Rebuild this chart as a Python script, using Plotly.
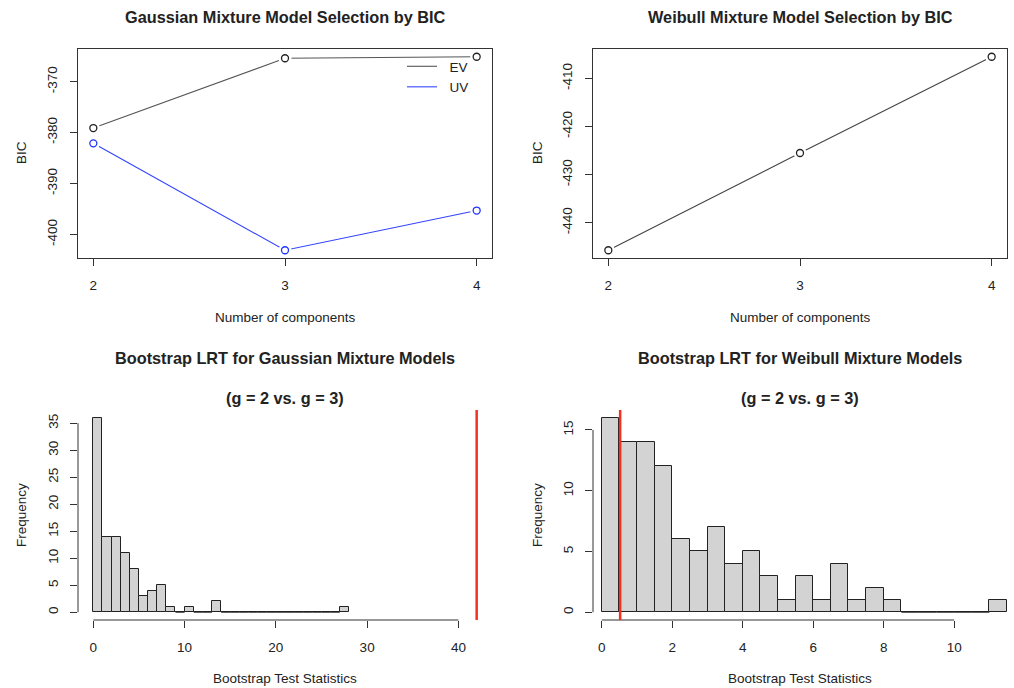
import plotly.graph_objects as go

# ---------------- data ----------------
components = [2, 3, 4]
gmm_bic_ev = [-379.1, -365.4, -365.1]
gmm_bic_uv = [-382.1, -403.1, -395.3]
wmm_bic = [-445.7, -425.5, -405.5]

gmm_bin_left = [0, 1, 2, 3, 4, 5, 6, 7, 8, 9, 10, 11, 12, 13, 14, 15, 16, 17, 18, 19,
                20, 21, 22, 23, 24, 25, 26, 27]
gmm_bin_width = 1.0
gmm_counts = [36, 14, 14, 11, 8, 3, 4, 5, 1, 0, 1, 0, 0, 2, 0, 0, 0, 0, 0, 0,
              0, 0, 0, 0, 0, 0, 0, 1]
gmm_observed_lrt = 42.0

wmm_bin_left = [0, 0.5, 1, 1.5, 2, 2.5, 3, 3.5, 4, 4.5, 5, 5.5, 6, 6.5, 7, 7.5, 8,
                8.5, 9, 9.5, 10, 10.5, 11]
wmm_bin_width = 0.5
wmm_counts = [16, 14, 14, 12, 6, 5, 7, 4, 5, 3, 1, 3, 1, 4, 1, 2, 1, 0, 0, 0, 0, 0, 1]
wmm_observed_lrt = 0.52

gmm_x_ticks = [0, 10, 20, 30, 40]
gmm_y_ticks = [0, 5, 10, 15, 20, 25, 30, 35]
wmm_x_ticks = [0, 2, 4, 6, 8, 10]
wmm_y_ticks = [0, 5, 10, 15]
bic_gmm_ticks = [-400, -390, -380, -370]
bic_wmm_ticks = [-440, -430, -420, -410]

# ---------------- style ----------------
W, H = 1014, 688
FONT = "Liberation Sans, Arial, Helvetica, sans-serif"
TXT = "#222222"
AX = "#333333"
FS = 13.5
TFS = 16.3


def fx(p):
    return p / W


def fy(p):
    return 1 - p / H


def rng(vals, pad=0.04):
    lo, hi = min(vals), max(vals)
    d = (hi - lo) * pad
    return [lo - d, hi + d]


fig = go.Figure()

# ---- top-left: Gaussian BIC ----
series = [("EV", gmm_bic_ev, "#555555", "#222222"), ("UV", gmm_bic_uv, "#3344ff", "#1f33ff")]
for name, vals, lcol, mcol in series:
    fig.add_trace(go.Scatter(x=components, y=vals, mode="lines", name="&nbsp;&nbsp;" + name,
                             line=dict(color=lcol, width=1.1),
                             xaxis="x", yaxis="y", showlegend=True))
for name, vals, lcol, mcol in series:
    fig.add_trace(go.Scatter(x=components, y=vals, mode="markers",
                             marker=dict(color="white", size=13, line=dict(width=0)),
                             xaxis="x", yaxis="y", showlegend=False, hoverinfo="skip"))
    fig.add_trace(go.Scatter(x=components, y=vals, mode="markers",
                             marker=dict(color="white", size=7, line=dict(color=mcol, width=1.3)),
                             xaxis="x", yaxis="y", showlegend=False))

# ---- top-right: Weibull BIC ----
fig.add_trace(go.Scatter(x=components, y=wmm_bic, mode="lines",
                         line=dict(color="#444444", width=1.1),
                         xaxis="x2", yaxis="y2", showlegend=False))
fig.add_trace(go.Scatter(x=components, y=wmm_bic, mode="markers",
                         marker=dict(color="white", size=13, line=dict(width=0)),
                         xaxis="x2", yaxis="y2", showlegend=False, hoverinfo="skip"))
fig.add_trace(go.Scatter(x=components, y=wmm_bic, mode="markers",
                         marker=dict(color="white", size=7, line=dict(color="#222222", width=1.3)),
                         xaxis="x2", yaxis="y2", showlegend=False))


def hist(bin_left, width, counts, xa, ya):
    fig.add_trace(go.Bar(x=[l + width / 2 for l in bin_left], y=counts, width=width,
                         marker=dict(color="#d3d3d3", line=dict(color="#222222", width=1)),
                         xaxis=xa, yaxis=ya, showlegend=False))
    # empty bins are drawn by R as flat rectangles on the baseline
    zx, zy = [], []
    for l, c in zip(bin_left, counts):
        if c == 0:
            zx += [l, l + width, None]
            zy += [c, c, None]
    fig.add_trace(go.Scatter(x=zx, y=zy, mode="lines", line=dict(color="#222222", width=1),
                             xaxis=xa, yaxis=ya, showlegend=False, hoverinfo="skip"))


hist(gmm_bin_left, gmm_bin_width, gmm_counts, "x3", "y3")
hist(wmm_bin_left, wmm_bin_width, wmm_counts, "x4", "y4")

tickfont = dict(family=FONT, size=FS, color=TXT)


def axis(domain, anchor, tickvals, r, line=True, angle=0, standoff=6):
    return dict(domain=domain, anchor=anchor, range=r, tickvals=tickvals,
                ticktext=[str(v) for v in tickvals], tickangle=angle,
                showgrid=False, zeroline=False, showline=line, mirror=line,
                linecolor=AX, linewidth=1, ticks="outside", ticklen=7,
                tickcolor=AX, tickwidth=1, tickfont=tickfont,
                ticklabelstandoff=standoff, fixedrange=True)


xl = [fx(78), fx(492)]
xr = [fx(593), fx(1007)]
yt = [fy(258), fy(49)]
yb = [fy(620), fy(410)]

gmm_xr = [gmm_bin_left[0] - 0.04 * (gmm_observed_lrt - gmm_bin_left[0]),
          gmm_observed_lrt + 0.04 * (gmm_observed_lrt - gmm_bin_left[0])]
gmm_yr = [-0.04 * max(gmm_counts), 1.04 * max(gmm_counts)]
wmm_xr = [-0.25, wmm_bin_left[-1] + wmm_bin_width]
wmm_yr = [-0.04 * max(wmm_counts), 1.04 * max(wmm_counts)]

fig.update_layout(
    width=W, height=H, margin=dict(l=0, r=0, t=0, b=0),
    paper_bgcolor="white", plot_bgcolor="white",
    font=dict(family=FONT, size=FS, color=TXT),
    bargap=0,
    xaxis=axis(xl, "y", components, [1.92, 4.08], standoff=8),
    yaxis=axis(yt, "x", bic_gmm_ticks, rng(gmm_bic_ev + gmm_bic_uv), angle=-90, standoff=8),
    xaxis2=axis(xr, "y2", components, [1.92, 4.08], standoff=8),
    yaxis2=axis(yt, "x2", bic_wmm_ticks, rng(wmm_bic), angle=-90, standoff=8),
    xaxis3=axis(xl, "y3", gmm_x_ticks, gmm_xr, line=False, standoff=8),
    yaxis3=axis(yb, "x3", gmm_y_ticks, gmm_yr, line=False, angle=-90, standoff=7),
    xaxis4=axis(xr, "y4", wmm_x_ticks, wmm_xr, line=False, standoff=8),
    yaxis4=axis(yb, "x4", wmm_y_ticks, wmm_yr, line=False, angle=-90, standoff=7),
    legend=dict(x=fx(402), y=fy(51), xanchor="left", yanchor="top",
                bgcolor="rgba(0,0,0,0)", borderwidth=0, itemwidth=30,
                font=dict(family=FONT, size=FS, color=TXT), tracegroupgap=0),
    showlegend=True,
)

shapes = []
# R-style axis lines for histograms (span first to last tick)
for xa, ya, xt, ytk in [("x3", "y3", gmm_x_ticks, gmm_y_ticks), ("x4", "y4", wmm_x_ticks, wmm_y_ticks)]:
    shapes.append(dict(type="line", xref=xa, yref=ya + " domain", x0=xt[0], x1=xt[-1], y0=0, y1=0,
                       line=dict(color=AX, width=1)))
    shapes.append(dict(type="line", xref=xa + " domain", yref=ya, x0=0, x1=0, y0=ytk[0], y1=ytk[-1],
                       line=dict(color=AX, width=1)))
# observed LRT statistics
shapes.append(dict(type="line", xref="x3", yref="y3 domain", x0=gmm_observed_lrt, x1=gmm_observed_lrt,
                   y0=0, y1=1, line=dict(color="#f5301e", width=2.5)))
shapes.append(dict(type="line", xref="x4", yref="y4 domain", x0=wmm_observed_lrt, x1=wmm_observed_lrt,
                   y0=0, y1=1, line=dict(color="#f5301e", width=2.5)))
fig.update_layout(shapes=shapes)

ann = []


def text(s, x, y, size=FS, bold=False, angle=0):
    ann.append(dict(text=f"<b>{s}</b>" if bold else s, x=fx(x), y=fy(y), xref="paper", yref="paper",
                    xanchor="center", yanchor="middle", showarrow=False, textangle=angle,
                    font=dict(family=FONT, size=size, color=TXT)))


text("Gaussian Mixture Model Selection by BIC", 285, 17, TFS, True)
text("Weibull Mixture Model Selection by BIC", 800, 17, TFS, True)
text("Bootstrap LRT for Gaussian Mixture Models", 285, 358, TFS, True)
text("(g = 2 vs. g = 3)", 285, 398, TFS, True)
text("Bootstrap LRT for Weibull Mixture Models", 800, 358, TFS, True)
text("(g = 2 vs. g = 3)", 800, 398, TFS, True)
text("Number of components", 285, 318)
text("Number of components", 800, 318)
text("Bootstrap Test Statistics", 285, 678)
text("Bootstrap Test Statistics", 800, 678)
text("BIC", 21, 153, angle=-90)
text("BIC", 537, 153, angle=-90)
text("Frequency", 21, 515, angle=-90)
text("Frequency", 537, 515, angle=-90)
fig.update_layout(annotations=ann)

fig.write_html("out.html", config={"displayModeBar": False},
               post_script="document.body.style.margin='0';document.body.style.overflow='hidden';")
